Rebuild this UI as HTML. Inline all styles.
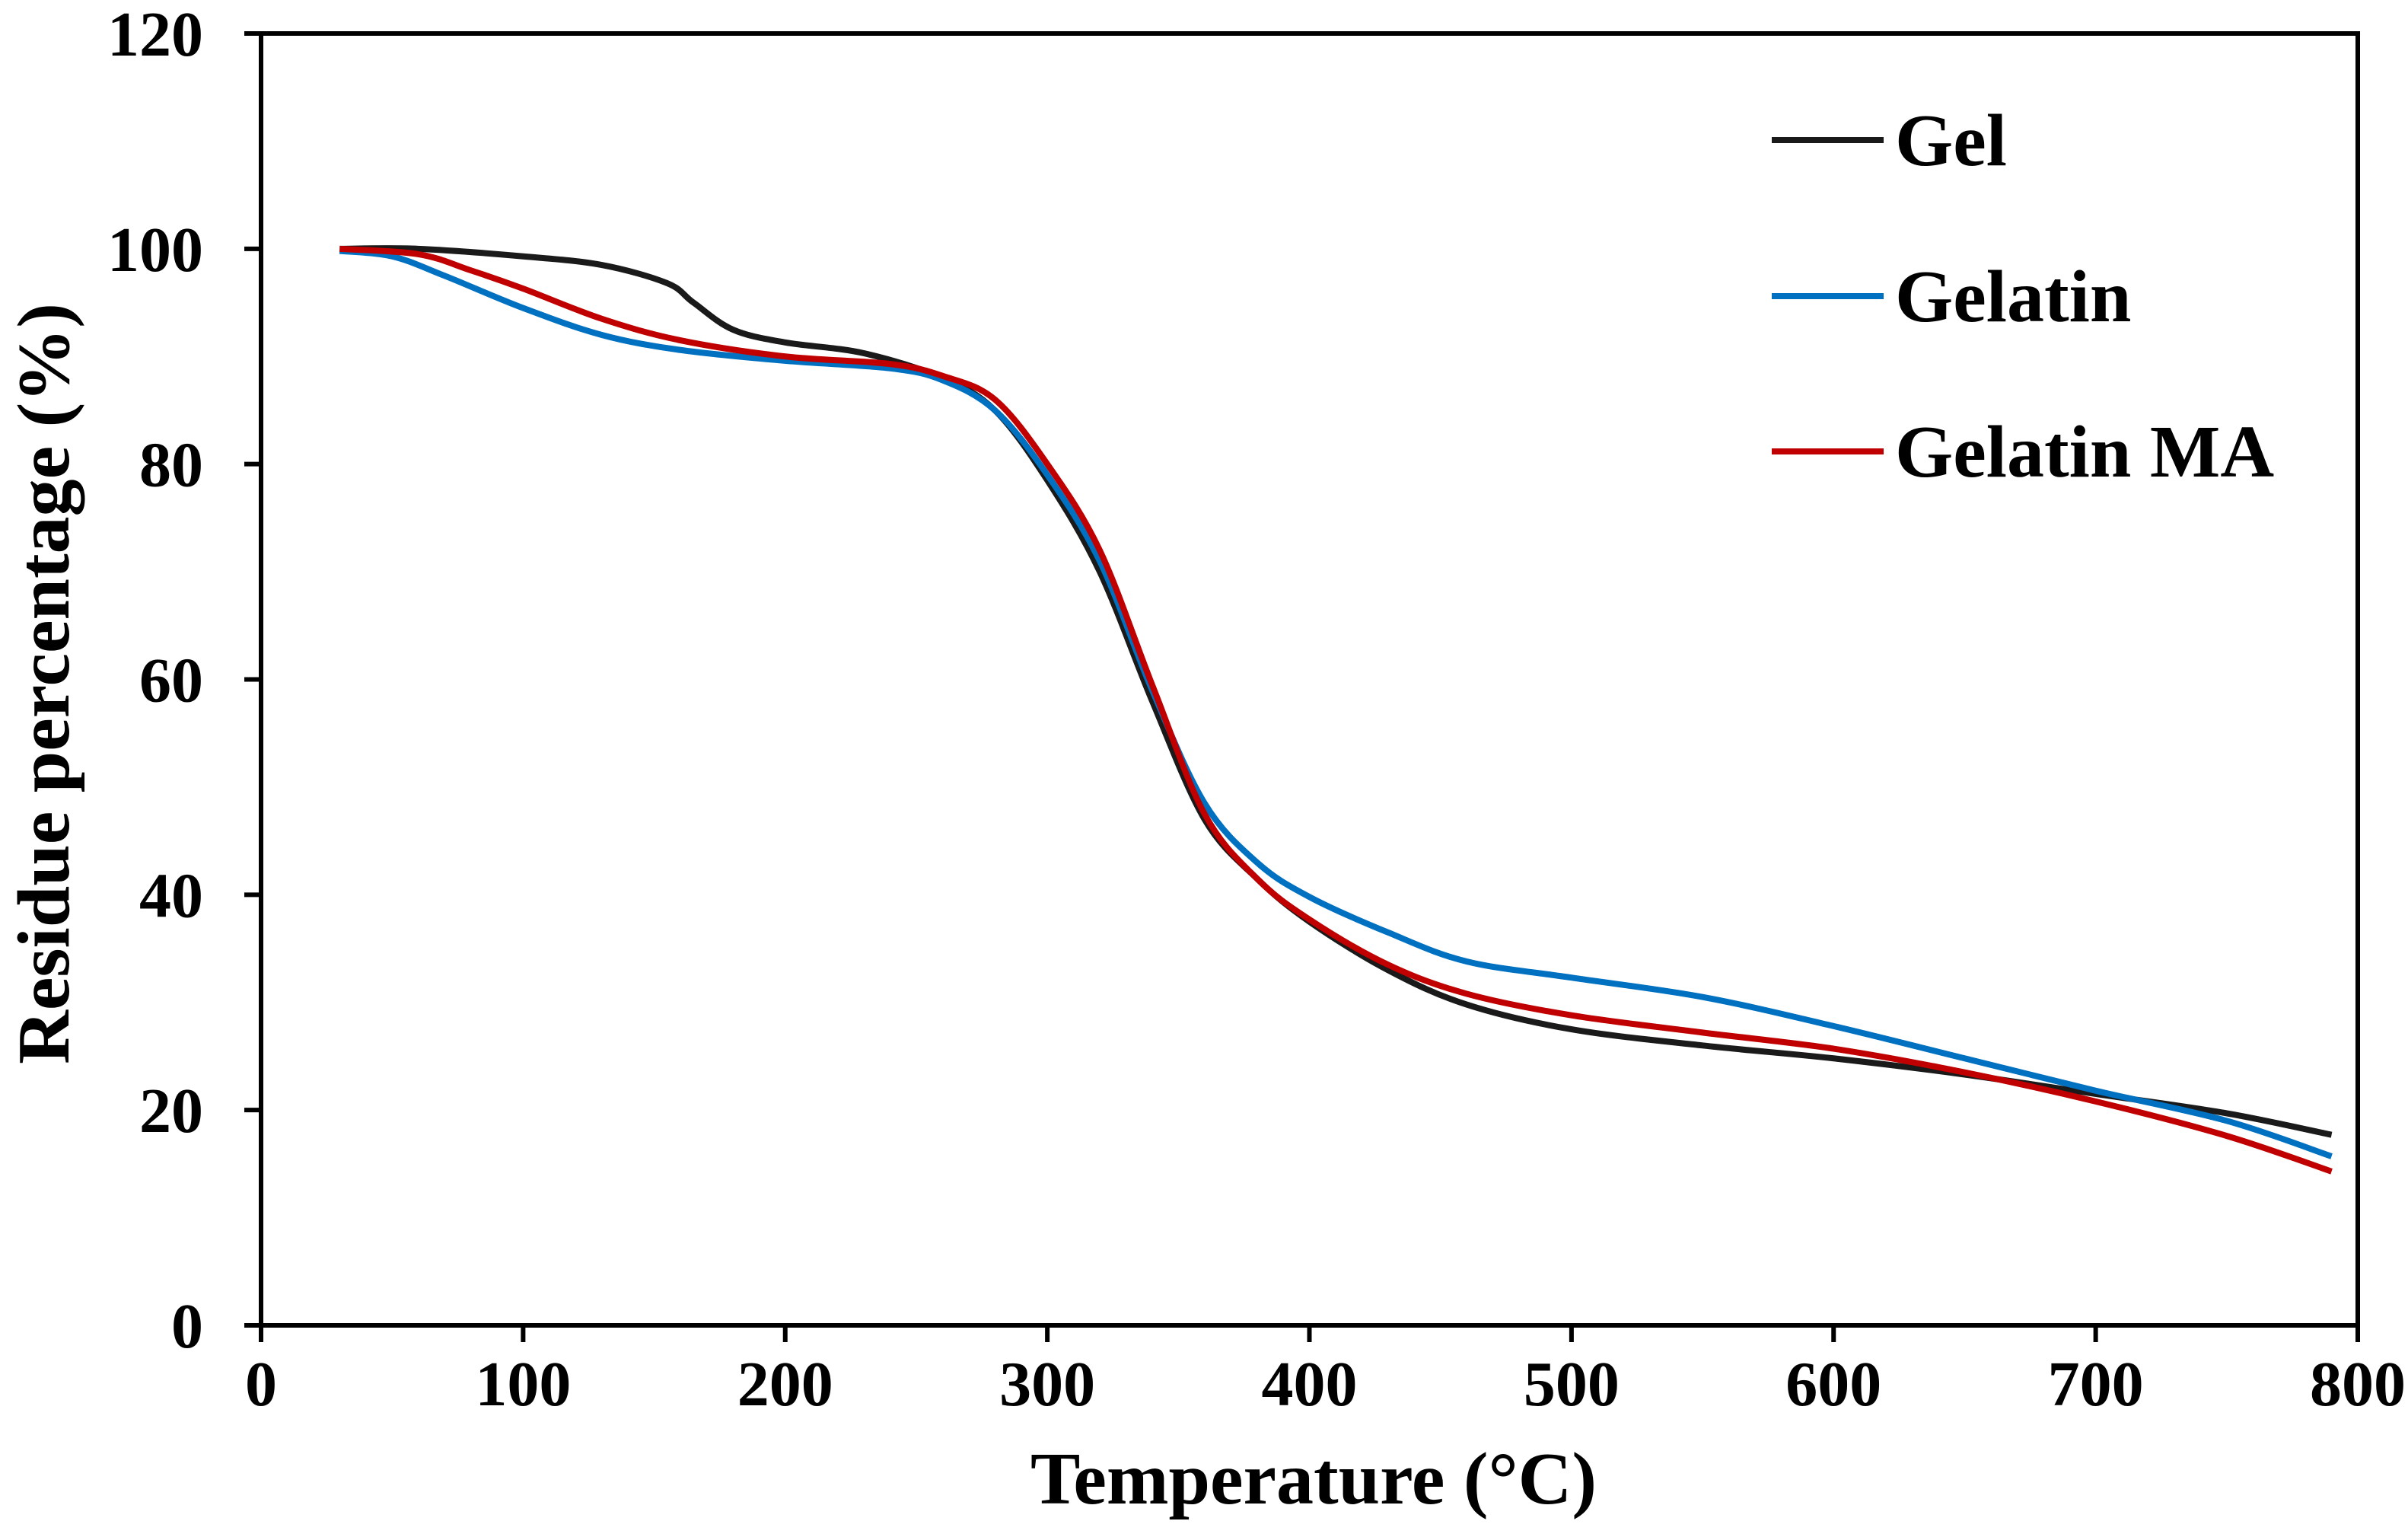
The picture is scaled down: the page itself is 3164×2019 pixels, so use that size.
<!DOCTYPE html>
<html><head><meta charset="utf-8"><style>
html,body{margin:0;padding:0;background:#fff;}
svg{display:block;}
text{font-family:"Liberation Serif",serif;font-weight:bold;fill:#000;}
</style></head><body>
<svg id="chart" width="3164" height="2019" viewBox="0 0 3164 2019" xmlns="http://www.w3.org/2000/svg">
<rect width="3164" height="2019" fill="#fff"/>
<g id="grid"></g>
<g id="series"></g>
<g id="legend"></g>
<text x="1726" y="1975" font-size="98" text-anchor="middle">Temperature (°C)</text>
<text transform="translate(90,898) rotate(-90)" font-size="98" text-anchor="middle">Residue percentage (%)</text>
</svg>
<script>
const xTicks = [0,100,200,300,400,500,600,700,800];
const yTicks = [0,20,40,60,80,100,120];
const seriesNames = ["Gel","Gelatin","Gelatin MA"];
const gelT = [30,60,100,130,155,165,180,200,230,260,280,300,320,340,360,380,400,430,460,500,550,600,650,700,750,790];
const gelY = [100,100,99.3,98.5,96.8,95,92.5,91.3,90.3,88,85,78.5,70,58,47,41.5,37.5,33,29.8,27.5,26,24.8,23.3,21.5,19.7,17.7];
const gelatinT = [30,50,70,100,130,160,200,240,260,280,300,320,340,360,380,400,430,460,500,550,600,650,700,750,790];
const gelatinY = [99.8,99.3,97.5,94.5,92,90.6,89.6,88.9,87.8,85,79,71,59,48.5,43,39.8,36.5,33.8,32.3,30.5,27.8,24.8,21.8,19,15.7];
const maT = [30,60,80,100,130,160,200,240,260,280,300,320,340,360,380,400,430,460,500,550,600,650,700,750,790];
const maY = [100,99.5,98,96.3,93.5,91.5,90,89.3,88.2,86,80,72,59.5,47.5,41.5,37.7,33.5,30.8,28.8,27.2,25.7,23.5,20.8,17.6,14.3];

const NS="http://www.w3.org/2000/svg";
const L=343,R=3098,T=44,B=1741;
const xs=v=>L+(v-0)/(800-0)*(R-L);
const ys=v=>B-(v-0)/(120-0)*(B-T);
function mk(tag,attrs,parent){const e=document.createElementNS(NS,tag);for(const k in attrs)e.setAttribute(k,attrs[k]);parent.appendChild(e);return e;}
const ax=document.getElementById('grid');
let e=mk('rect',{x:L,y:T,width:R-L,height:B-T,fill:'none',stroke:'#000','stroke-width':6},ax);


xTicks.forEach(v=>{
  let t=mk('line',{x1:xs(v),x2:xs(v),y1:B,y2:B+22,stroke:'#000','stroke-width':6},ax);
  
  
  let l=mk('text',{x:xs(v),y:B+105,'font-size':84,'text-anchor':'middle'},ax);
  l.textContent=v;
  
  
});
yTicks.forEach(v=>{
  let t=mk('line',{x1:L-22,x2:L,y1:ys(v),y2:ys(v),stroke:'#000','stroke-width':6},ax);
  
  
  let l=mk('text',{x:267,y:ys(v)+29,'font-size':84,'text-anchor':'end'},ax);
  l.textContent=v;
  
  
});
function smooth(tx,ty){
  const p=tx.map((t,i)=>[xs(t),ys(ty[i])]);
  let d='M'+p[0][0]+','+p[0][1];
  for(let i=0;i<p.length-1;i++){
    const p0=p[i-1]||p[i],p1=p[i],p2=p[i+1],p3=p[i+2]||p2;
    const c1=[p1[0]+(p2[0]-p0[0])/6,p1[1]+(p2[1]-p0[1])/6];
    const c2=[p2[0]-(p3[0]-p1[0])/6,p2[1]-(p3[1]-p1[1])/6];
    d+=' C'+c1+' '+c2+' '+p2;
  }
  return d;
}
const sg=document.getElementById('series');
const colors=['#1a1a1a','#0070c0','#c00000'];
const data=[[gelT,gelY],[gelatinT,gelatinY],[maT,maY]];
const lineNames=['line-gel','line-gelatin','line-gelatin-ma'];
data.forEach((s,i)=>{
  let p=mk('path',{d:smooth(s[0],s[1]),fill:'none',stroke:colors[i],'stroke-width':8,'stroke-linejoin':'round'},sg);
  
  
});
const lg=document.getElementById('legend');
const legY=[184,389,593];
seriesNames.forEach((n,i)=>{
  let ln=mk('line',{x1:2328,x2:2475,y1:legY[i],y2:legY[i],stroke:colors[i],'stroke-width':8},lg);
  
  
  let tx=mk('text',{x:2490,y:legY[i]+33,'font-size':98},lg);
  tx.textContent=n;
  
  
});
</script>
</body></html>
